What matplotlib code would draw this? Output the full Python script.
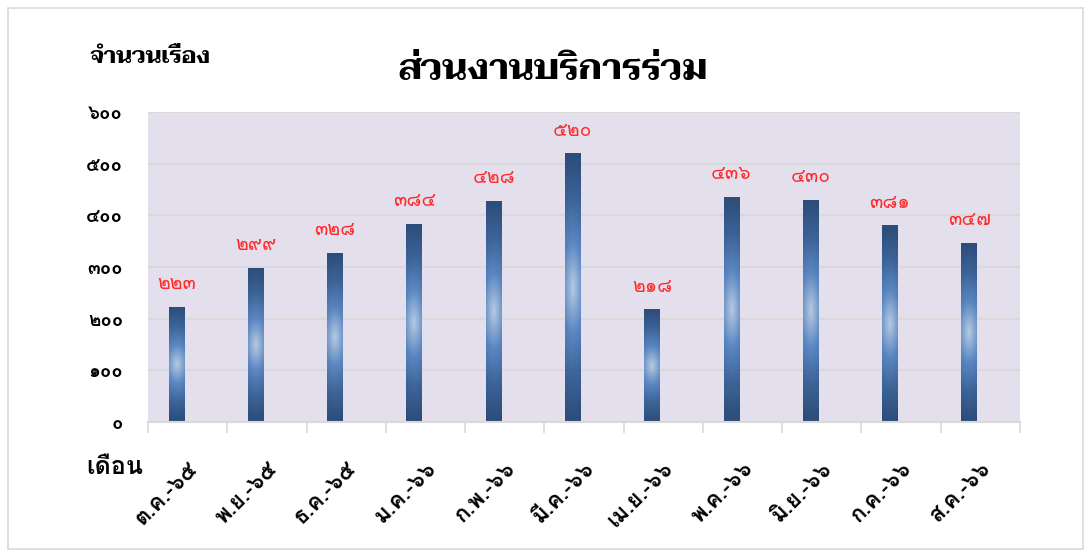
import numpy as np
import matplotlib
matplotlib.use("Agg")
import matplotlib.pyplot as plt
from matplotlib.colors import LinearSegmentedColormap
from matplotlib.patches import Rectangle

months = ["ต.ค.-๖๕", "พ.ย.-๖๕", "ธ.ค.-๖๕", "ม.ค.-๖๖", "ก.พ.-๖๖", "มี.ค.-๖๖",
          "เม.ย.-๖๖", "พ.ค.-๖๖", "มิ.ย.-๖๖", "ก.ค.-๖๖", "ส.ค.-๖๖"]
counts = [223, 299, 328, 384, 428, 520, 218, 436, 430, 381, 347]
y_ticks = [0, 100, 200, 300, 400, 500, 600]

THAI_DIGITS = "๐๑๒๓๔๕๖๗๘๙"


def thai_num(n):
    return "".join(THAI_DIGITS[int(c)] for c in str(n))


SANS = ["Loma", "Noto Sans Thai Looped", "DejaVu Sans"]
SERIF = ["Taviraj", "Trirong", "Noto Serif Thai", "DejaVu Sans"]
plt.rcParams["font.family"] = SANS

fig = plt.figure(figsize=(10.91, 5.51), dpi=100)
fig.patches.append(Rectangle((8 / 1091, 2 / 551), 1075 / 1091, 541 / 551,
                             transform=fig.transFigure, fill=False,
                             edgecolor="#D9D9D9", linewidth=1.2))
ax = fig.add_axes([148 / 1091, 1 - 422 / 551, 872 / 1091, 310 / 551])
ax.set_facecolor("#E4DFEC")

# bars: dark at both ends, light in the middle
cmap = LinearSegmentedColormap.from_list(
    "bar", ["#B3C7E1", "#5A86C0", "#3C6397", "#2D4C79"])
yy = np.linspace(-1, 1, 200)[:, None]
xx = np.linspace(-1, 1, 20)[None, :]
grad = np.clip(np.sqrt(yy ** 2 + (0.25 * xx) ** 2), 0, 1)

x = np.arange(len(counts))
offset = -0.14
width = 0.2
for xi, v in zip(x, counts):
    x0 = xi + offset - width / 2
    bar = Rectangle((x0, 0), width, v, facecolor="none", edgecolor="none")
    ax.add_patch(bar)
    im = ax.imshow(grad, cmap=cmap, extent=[x0, x0 + width, 0, v],
                   aspect="auto", origin="lower", zorder=2)
    im.set_clip_path(bar)
    ax.text(xi + offset, v + 26, thai_num(v), ha="center", va="bottom",
            color="#FF2A2A", fontsize=14)

ax.set_xlim(-0.5, len(counts) - 0.5)
ax.set_ylim(0, 600)
ax.set_yticks(y_ticks)
ax.set_yticklabels([thai_num(t) for t in y_ticks], fontsize=13.5, fontweight="bold")
ax.yaxis.grid(True, color="#D9D9D9", linewidth=1.5)
ax.set_axisbelow(True)
ax.tick_params(axis="y", length=0, pad=18)

ax.set_xticks(np.arange(len(counts) + 1) - 0.5, minor=False)
ax.set_xticklabels([])
ax.tick_params(axis="x", direction="out", length=8, color="#D9D9D9", width=1.2)
ax.set_xticks(x, minor=True)
ax.set_xticklabels(months, minor=True, rotation=45, ha="right",
                   rotation_mode="anchor", fontsize=16, fontweight="bold")
ax.tick_params(axis="x", which="minor", length=0, pad=26)

for s in ["top", "right", "left"]:
    ax.spines[s].set_visible(False)
ax.spines["bottom"].set_color("#D9D9D9")
ax.spines["bottom"].set_linewidth(1.5)

fig.text(553 / 1091, 1 - 70 / 551, "ส่วนงานบริการร่วม", ha="center", va="center",
         fontsize=26, fontweight="bold", family=SERIF)
fig.text(90 / 1091, 1 - 58 / 551, "จำนวนเรื่อง", ha="left", va="center",
         fontsize=16.5, fontweight="bold", family=SERIF)
fig.text(86 / 1091, 1 - 467 / 551, "เดือน", ha="left", va="center",
         fontsize=18, fontweight="bold")

fig.savefig("out.png", dpi=100)
